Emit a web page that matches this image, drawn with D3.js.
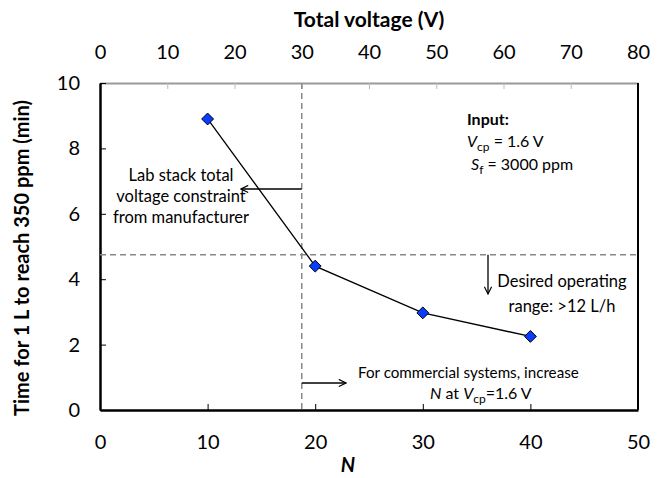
<!DOCTYPE html>
<html>
<head>
<meta charset="utf-8">
<script src="https://cdn.jsdelivr.net/npm/d3@7"></script>
<style>
  body { margin: 0; background: #fff; }
  svg text { font-family: Lato, "Open Sans", sans-serif; fill: #000; }
</style>
</head>
<body>
<div id="main"></div>
<script>
// data
const nValues = [10, 20, 30, 40];
const timeValues = [8.9, 4.4, 2.97, 2.25];
const nTicks = [0, 10, 20, 30, 40, 50];
const timeTicks = [0, 2, 4, 6, 8, 10];
const voltTicks = [0, 10, 20, 30, 40, 50, 60, 70, 80];
const voltLimit = 30;      // lab stack constraint (V)
const desiredTime = 4.75;  // time for >12 L/h

const width = 662, height = 478;
const margin = { top: 83, right: 24, bottom: 68, left: 100 };

const svg = d3.select('#main').append('svg')
  .attr('width', width)
  .attr('height', height);

const x = d3.scaleLinear().domain([0, 50]).range([margin.left, width - margin.right]);
const xV = d3.scaleLinear().domain([0, 80]).range([margin.left, width - margin.right]);
const y = d3.scaleLinear().domain([0, 10]).range([height - margin.bottom, margin.top]);

// top axis (gray)
const topAx = svg.append('g')
  .attr('transform', `translate(0,${margin.top})`)
  .call(d3.axisTop(xV).tickValues(voltTicks).tickSize(-6).tickSizeOuter(0));
topAx.select('.domain').attr('stroke', '#999').attr('stroke-width', 2);
topAx.selectAll('.tick line').attr('stroke', '#bbb');
topAx.selectAll('.tick text').attr('font-size', 20).attr('dy', '0.35em').attr('y', -31);

// right border
svg.append('line')
  .attr('x1', width - margin.right).attr('x2', width - margin.right)
  .attr('y1', margin.top).attr('y2', y(0))
  .attr('stroke', '#000').attr('stroke-width', 2);

// bottom axis
const botAx = svg.append('g')
  .attr('transform', `translate(0,${y(0)})`)
  .call(d3.axisBottom(x).tickValues(nTicks).tickSize(-6).tickSizeOuter(0));
botAx.select('.domain').attr('stroke-width', 2.5);
botAx.selectAll('.tick text').attr('font-size', 20).attr('dy', '0.35em').attr('y', 32);

// left axis
const leftAx = svg.append('g')
  .attr('transform', `translate(${margin.left},0)`)
  .call(d3.axisLeft(y).tickValues(timeTicks).tickSize(-6).tickSizeOuter(0));
leftAx.select('.domain').attr('stroke-width', 2.5);
leftAx.selectAll('.tick text').attr('font-size', 20).attr('x', -20);

// axis titles
svg.append('text')
  .attr('x', (margin.left + width - margin.right) / 2).attr('y', 27)
  .attr('text-anchor', 'middle').attr('font-size', 21).attr('font-weight', 'bold')
  .text('Total voltage (V)');
svg.append('text')
  .attr('x', 348).attr('y', 472)
  .attr('text-anchor', 'middle').attr('font-size', 20).attr('font-weight', 'bold').attr('font-style', 'italic')
  .text('N');
svg.append('text')
  .attr('transform', `translate(29,258) rotate(-90)`)
  .attr('text-anchor', 'middle').attr('font-size', 20).attr('font-weight', 'bold')
  .text('Time for 1 L to reach 350 ppm (min)');

// dashed guide lines
svg.append('line')
  .attr('x1', xV(voltLimit)).attr('x2', xV(voltLimit))
  .attr('y1', margin.top).attr('y2', y(0))
  .attr('stroke', '#888').attr('stroke-width', 1.5).attr('stroke-dasharray', '6,4');
svg.append('line')
  .attr('x1', margin.left).attr('x2', width - margin.right)
  .attr('y1', y(desiredTime)).attr('y2', y(desiredTime))
  .attr('stroke', '#888').attr('stroke-width', 1.5).attr('stroke-dasharray', '6,4');

// series
const pts = nValues.map((n, i) => [n, timeValues[i]]);
svg.append('path')
  .datum(pts)
  .attr('fill', 'none').attr('stroke', '#000').attr('stroke-width', 1.3)
  .attr('d', d3.line().x(d => x(d[0])).y(d => y(d[1])));
svg.append('g').selectAll('path')
  .data(pts)
  .join('path')
  .attr('transform', d => `translate(${x(d[0])},${y(d[1])})`)
  .attr('d', d3.symbol(d3.symbolDiamond2, 90))
  .attr('fill', '#0a3cff').attr('stroke', '#000').attr('stroke-width', 1);

// arrows
const defs = svg.append('defs');
defs.append('marker')
  .attr('id', 'arr').attr('viewBox', '0 0 10 10').attr('refX', 9).attr('refY', 5)
  .attr('markerWidth', 9).attr('markerHeight', 9).attr('markerUnits', 'userSpaceOnUse')
  .attr('orient', 'auto')
  .append('path').attr('d', 'M1,1 L9,5 L1,9').attr('fill', 'none').attr('stroke', '#000').attr('stroke-width', 1.3);

function arrow(x1, y1, x2, y2) {
  svg.append('line')
    .attr('x1', x1).attr('y1', y1).attr('x2', x2).attr('y2', y2)
    .attr('stroke', '#000').attr('stroke-width', 1.3).attr('marker-end', 'url(#arr)');
}
const vx = xV(voltLimit);
arrow(vx, 189, 241, 189);
arrow(488, y(desiredTime), 488, 294);
arrow(vx, 383, 346, 383);

// annotation text
function lines(xp, y0, dy, arr, anchor) {
  arr.forEach((t, i) => {
    svg.append('text').attr('x', xp).attr('y', y0 + i * dy)
      .attr('text-anchor', anchor || 'middle').attr('font-size', 16.5).text(t);
  });
}
lines(181, 181, 21, ['Lab stack total', 'voltage constraint', 'from manufacturer']);
lines(562, 287, 25, ['Desired operating', 'range: >12 L/h']);

svg.append('text').attr('x', 358).attr('y', 378).attr('font-size', 15.2).text('For commercial systems, increase');
const t2 = svg.append('text').attr('x', 430).attr('y', 399).attr('font-size', 16);
t2.append('tspan').attr('font-style', 'italic').text('N');
t2.append('tspan').text(' at ');
t2.append('tspan').attr('font-style', 'italic').text('V');
t2.append('tspan').attr('font-size', 12).attr('dy', 4).text('cp');
t2.append('tspan').attr('dy', -4).text('=1.6 V');

svg.append('text').attr('x', 467).attr('y', 125).attr('font-size', 16).attr('font-weight', 'bold').text('Input:');
const t3 = svg.append('text').attr('x', 467).attr('y', 147).attr('font-size', 16);
t3.append('tspan').attr('font-style', 'italic').text('V');
t3.append('tspan').attr('font-size', 12).attr('dy', 4).text('cp');
t3.append('tspan').attr('dy', -4).text(' = 1.6 V');
const t4 = svg.append('text').attr('x', 471).attr('y', 170).attr('font-size', 16);
t4.append('tspan').attr('font-style', 'italic').text('S');
t4.append('tspan').attr('font-size', 12).attr('dy', 4).text('f');
t4.append('tspan').attr('dy', -4).text(' = 3000 ppm');
</script>
</body>
</html>
